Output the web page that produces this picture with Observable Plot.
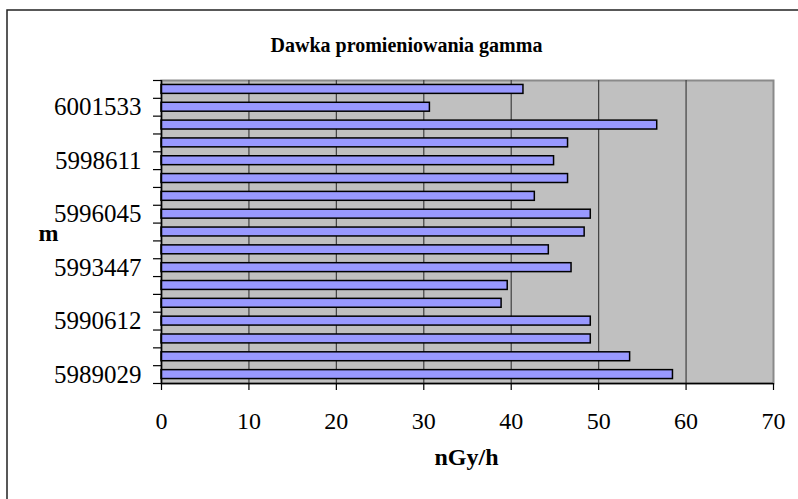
<!DOCTYPE html>
<html>
<head>
<meta charset="utf-8">
<script src="https://cdn.jsdelivr.net/npm/d3@7"></script>
<script src="https://cdn.jsdelivr.net/npm/@observablehq/plot@0.6"></script>
<style>
  html, body { margin: 0; padding: 0; background: #fff; }
  #chart { width: 798px; height: 499px; overflow: hidden; }
  #chart svg, #chart svg text { font-family: "Liberation Serif", "Times New Roman", "DejaVu Serif", serif !important; }
</style>
</head>
<body>
<div id="chart"></div>
<script>
// Categories (northing, m), bottom to top; only every third is labelled in the reference
const tickLabels = ["5989029","","","5990612","","","5993447","","","5996045","","","5998611","","","6001533",""];
// Gamma dose rate, nGy/h, bottom to top
const values = [58.5, 53.6, 49.1, 49.1, 38.9, 39.6, 46.9, 44.3, 48.4, 49.1, 42.7, 46.5, 44.9, 46.5, 56.7, 30.7, 41.4];
const xTicks = [0, 10, 20, 30, 40, 50, 60, 70];
const gridValues = [10, 20, 30, 40, 50, 60];
const title = "Dawka promieniowania gamma";
const xLabel = "nGy/h";
const yLabel = "m";

const serif = "Liberation Serif";
const data = values.map((v, i) => ({i, v, label: tickLabels[i]}));
const n = values.length;
const labelled = data.filter(d => d.label !== "").map(d => d.i + 0.5);

const chart = Plot.plot({
  width: 798,
  height: 499,
  marginLeft: 161,
  marginRight: 25,
  marginTop: 80,
  marginBottom: 116,
  x: {domain: [0, 70]},
  y: {domain: [0, n]},
  style: {fontFamily: serif, fontSize: "24px", background: "transparent", color: "black"},
  marks: [
    Plot.frame({fill: "#c0c0c0", stroke: "#8a8a8a", strokeWidth: 2}),
    Plot.ruleX(gridValues, {stroke: "#404040", strokeWidth: 1.2}),
    Plot.rectX(data, {x1: 0, x2: "v", y1: d => d.i + 0.25, y2: d => d.i + 0.75, fill: "#9999ff", stroke: "black", strokeWidth: 1.5}),
    Plot.ruleY([0], {stroke: "black", strokeWidth: 1.5}),
    Plot.ruleX([0], {stroke: "black", strokeWidth: 1.5}),
    Plot.axisX({ticks: xTicks, tickSize: 7, tickPadding: 21, label: null, fontSize: 24, fontFamily: serif, strokeWidth: 1.2}),
    Plot.axisY({ticks: d3.range(0, n + 1), tickSize: 8, tickFormat: () => "", label: null, strokeWidth: 1.2}),
    Plot.axisY({ticks: labelled, tickSize: 0, tickPadding: 20, tickFormat: t => tickLabels[Math.round(t - 0.5)], label: null, fontSize: 25, fontFamily: serif}),
    Plot.text([title], {frameAnchor: "top", dx: -61, dy: -43, fontWeight: "bold", fontSize: 20, fontFamily: serif}),
    Plot.text([yLabel], {frameAnchor: "left", dx: -123, dy: 1, fontWeight: "bold", fontSize: 24, fontFamily: serif}),
    Plot.text([xLabel], {frameAnchor: "bottom", dx: -1, dy: 81, fontWeight: "bold", fontSize: 24, fontFamily: serif})
  ]
});

d3.select(chart).append("rect")
  .attr("x", 7).attr("y", 10)
  .attr("width", 820).attr("height", 520)
  .attr("fill", "none").attr("stroke", "#222").attr("stroke-width", 1.5);

document.getElementById("chart").appendChild(chart);
</script>
</body>
</html>
